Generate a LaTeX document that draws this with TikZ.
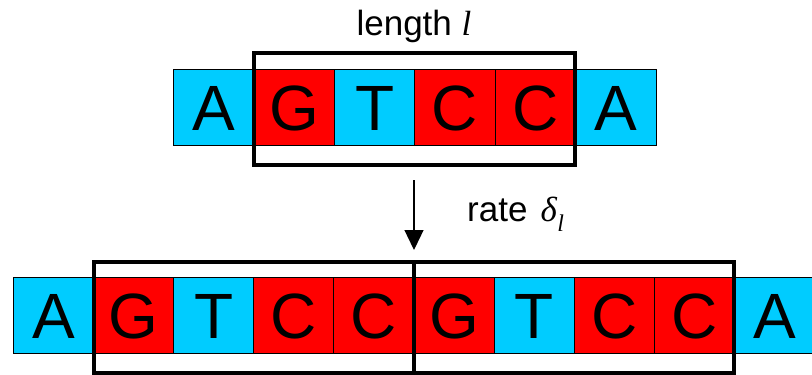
\documentclass[tikz,border=0pt]{standalone}
\usepackage{fontspec}
\setmainfont{Liberation Sans}
\newfontfamily\tmsfont{Liberation Serif}
\usetikzlibrary{arrows.meta}
\definecolor{baseblue}{HTML}{00CCFF}
\definecolor{basered}{HTML}{FF0000}
\tikzset{
  cell/.style={draw=black, line width=0.8pt, minimum width=80.5pt, minimum height=76pt,
    inner sep=0pt, outer sep=0pt, font=\fontsize{64}{64}\selectfont, text height=46pt, text depth=0pt},
  cb/.style={cell, fill=baseblue},
  cr/.style={cell, fill=basered},
  frame/.style={draw=black, line width=4pt},
  lbl/.style={font=\fontsize{35}{35}\selectfont, inner sep=0pt},
  arr/.style={-{Triangle[length=20pt,width=19pt]}, line width=1.3pt}
}
\begin{document}
\begin{tikzpicture}[x=1pt,y=-1pt]
\useasboundingbox (0,0) rectangle (812,375);
% top row
\foreach \i/\c/\s in {0/A/cb,1/G/cr,2/T/cb,3/C/cr,4/C/cr,5/A/cb}{
  \node[\s] (t\i) at ({173.3+40.25+80.5*\i},107) {\c};
}
% bottom row
\foreach \i/\c/\s in {0/A/cb,1/G/cr,2/T/cb,3/C/cr,4/C/cr,5/G/cr,6/T/cb,7/C/cr,8/C/cr,9/A/cb}{
  \node[\s] (b\i) at ({13.3+40.25+80.1*\i},315) {\c};
}
% frames
\draw[frame] (254,53) rectangle (575,165);
\draw[frame] (94,261.5) rectangle (414,373);
\draw[frame] (414,261.5) rectangle (733.5,373);
% labels
\node[lbl, anchor=base] (len) at (414,35) {length {\tmsfont\itshape l}};
\node[lbl, anchor=base west] (rate) at (467,221) {rate\hspace{13pt}{\tmsfont\itshape δ\kern0.5pt\raisebox{-10pt}{\fontsize{24}{24}\selectfont l}}};
% arrow
\coordinate (arrtop) at (414,180);
\coordinate (arrtip) at (414,250);
\draw[arr] (arrtop) -- (arrtip);
\end{tikzpicture}
\end{document}
